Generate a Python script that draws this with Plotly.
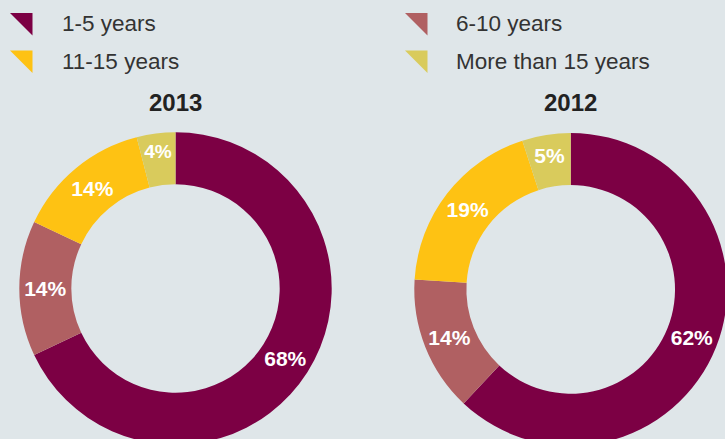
import plotly.graph_objects as go

categories = ["1-5 years", "6-10 years", "11-15 years", "More than 15 years"]
values_2013 = [68, 14, 14, 4]
values_2012 = [62, 14, 19, 5]
years = ["2013", "2012"]

colors = ["#7c0044", "#b06062", "#fec213", "#d9cb5c"]
BG = "#dfe6e9"
FONT = "Liberation Sans, Arial, Helvetica, sans-serif"
W, H = 740, 450

fig = go.Figure()

def px_dom(x0, x1, ytop, ybot):
    return dict(x=[x0 / W, x1 / W], y=[1 - ybot / H, 1 - ytop / H])

domains = [px_dom(19.3, 331.7, 132.3, 444.7), px_dom(414.3, 727.1, 133.0, 445.8)]

for vals, dom in zip([values_2013, values_2012], domains):
    fig.add_trace(go.Pie(
        labels=categories, values=vals, domain=dom, hole=0.667,
        sort=False, direction="clockwise", rotation=0,
        marker=dict(colors=colors, line=dict(width=0)),
        texttemplate="<b>%{value}%</b>", textposition="inside",
        insidetextorientation="horizontal",
        insidetextfont=dict(family=FONT, size=21, color="white"),
        showlegend=False, hoverinfo="label+value",
    ))

# custom legend: right-triangle glyphs (pixel units on an overlay axis)
glyph_left = [10, 405, 10, 405]
glyph_top = [13, 13, 50.5, 50.5]
GS = 22.5
for i, c in enumerate(categories):
    x0, y0 = glyph_left[i], glyph_top[i]
    fig.add_shape(type="path", xref="x", yref="y",
                  path=f"M {x0} {y0} L {x0 + GS} {y0} L {x0 + GS} {y0 + GS} Z",
                  fillcolor=colors[i], line=dict(width=0))

txt_x = [60, 454, 60, 454]
txt_y = [23.5, 23.5, 61, 61]
for i, c in enumerate(categories):
    fig.add_annotation(x=txt_x[i], y=txt_y[i], xref="x", yref="y", text=c,
                       showarrow=False, xanchor="left", yanchor="middle",
                       font=dict(family=FONT, size=22.5, color="#333333"))

title_x = [175.5, 570.7]
for yr, tx in zip(years, title_x):
    fig.add_annotation(x=tx, y=102, xref="x", yref="y", text="<b>%s</b>" % yr,
                       showarrow=False, xanchor="center", yanchor="middle",
                       font=dict(family=FONT, size=24, color="#222222"))

fig.update_layout(
    width=W, height=H, margin=dict(l=0, r=0, t=0, b=0),
    paper_bgcolor=BG, plot_bgcolor=BG,
    xaxis=dict(range=[0, W], visible=False, domain=[0, 1], fixedrange=True),
    yaxis=dict(range=[H, 0], visible=False, domain=[0, 1], fixedrange=True),
    showlegend=False,
)

fig.write_html("out.html", config={"displayModeBar": False}, post_script=(
    "document.body.style.margin='0';document.body.style.overflow='hidden';"
    "document.documentElement.style.overflow='hidden';"
    "document.body.style.background='" + BG + "';"
))
